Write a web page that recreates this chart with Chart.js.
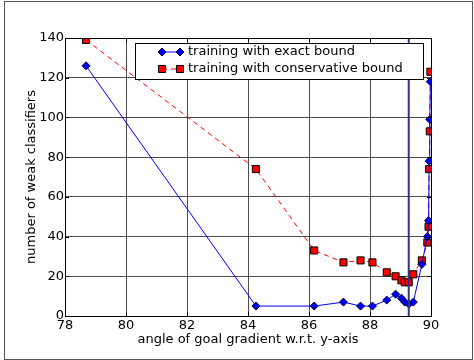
<!DOCTYPE html>
<html>
<head>
<meta charset="utf-8">
<script src="https://cdn.jsdelivr.net/npm/chart.js@4.4.1/dist/chart.umd.min.js"></script>
<style>
  html, body { margin: 0; padding: 0; background: #fff; }
  #wrap { position: relative; width: 474px; height: 360px; }
</style>
</head>
<body>
<div id="wrap"><canvas id="c" width="474" height="360"></canvas></div>
<script>
// ---- data ----
const angles = [78.69, 84.26, 86.17, 87.13, 87.69, 88.08, 88.55, 88.84, 89.03, 89.14, 89.27, 89.42, 89.70, 89.88, 89.92, 89.94, 89.96, 89.98];
const exactBound = [126, 5, 5, 7, 5, 5, 8, 11, 9, 7, 6, 7, 26, 40, 48, 78, 99, 118];
const conservativeBound = [139, 74, 33, 27, 28, 27, 22, 20, 18, 17, 17, 21, 28, 37, 45, 74, 93, 123];
const markerAngle = [89.27, 89.27];
const markerSpan = [0, 140];
const seriesLabels = ['training with exact bound', 'training with conservative bound'];
const xTicks = [78, 80, 82, 84, 86, 88, 90];
const yTicks = [0, 20, 40, 60, 80, 100, 120, 140];
const xTitle = 'angle of goal gradient w.r.t. y-axis';
const yTitle = 'number of weak classifiers';

const FONT = 'DejaVu Sans';
const toPts = (xs, ys) => xs.map((x, i) => ({ x: x, y: ys[i] }));

function drawMarker(ctx, style, r, px, py, fill, stroke) {
  ctx.fillStyle = fill;
  ctx.strokeStyle = stroke;
  ctx.lineWidth = 1;
  ctx.beginPath();
  if (style === 'rect') {
    const s = r * Math.SQRT1_2;
    ctx.rect(px - s, py - s, 2 * s, 2 * s);
  } else {
    ctx.moveTo(px - r, py); ctx.lineTo(px, py - r); ctx.lineTo(px + r, py); ctx.lineTo(px, py + r); ctx.closePath();
  }
  ctx.fill(); ctx.stroke();
}

const framePlugin = {
  id: 'frame',
  beforeDraw(chart) {
    const ctx = chart.ctx;
    ctx.save();
    ctx.fillStyle = '#fff';
    ctx.fillRect(0, 0, chart.width, chart.height);
    ctx.strokeStyle = '#555';
    ctx.lineWidth = 1;
    ctx.strokeRect(4.5, 1.5, 468, 358);
    ctx.restore();
  },
  afterDatasetsDraw(chart) {
    const ctx = chart.ctx;
    const a = chart.chartArea;
    const xs = chart.scales.x, ys = chart.scales.y;
    ctx.save();
    // axes frame
    ctx.strokeStyle = '#000';
    ctx.lineWidth = 1;
    ctx.strokeRect(Math.round(a.left) + 0.5, Math.round(a.top) + 0.5, Math.round(a.right - a.left), Math.round(a.bottom - a.top));
    // inward ticks on all four sides
    ctx.beginPath();
    xTicks.forEach(v => {
      const px = Math.round(xs.getPixelForValue(v)) + 0.5;
      ctx.moveTo(px, a.bottom); ctx.lineTo(px, a.bottom - 4);
      ctx.moveTo(px, a.top); ctx.lineTo(px, a.top + 4);
    });
    yTicks.forEach(v => {
      const py = Math.round(ys.getPixelForValue(v)) + 0.5;
      ctx.moveTo(a.left, py); ctx.lineTo(a.left + 4, py);
      ctx.moveTo(a.right, py); ctx.lineTo(a.right - 4, py);
    });
    ctx.stroke();

    // legend
    const lx = 135.5, ly = 43.5, lw = 288, lh = 36;
    ctx.fillStyle = '#fff';
    ctx.fillRect(lx, ly, lw, lh);
    ctx.strokeStyle = '#000';
    ctx.strokeRect(lx, ly, lw, lh);
    const rows = [
      { y: 52, ds: chart.data.datasets[0] },
      { y: 69, ds: chart.data.datasets[1] }
    ];
    rows.forEach((r, i) => {
      const x1 = 162, x2 = 180;
      ctx.beginPath();
      ctx.strokeStyle = r.ds.borderColor;
      ctx.lineWidth = 1;
      ctx.setLineDash(r.ds.borderDash || []);
      ctx.moveTo(x1, r.y); ctx.lineTo(x2, r.y);
      ctx.stroke();
      ctx.setLineDash([]);
      [x1, x2].forEach(px => drawMarker(ctx, r.ds.pointStyle, r.ds.pointRadius, px, r.y, r.ds.pointBackgroundColor, r.ds.pointBorderColor));
      ctx.fillStyle = '#000';
      ctx.font = '13px "' + FONT + '"';
      ctx.textBaseline = 'middle';
      ctx.textAlign = 'left';
      ctx.fillText(seriesLabels[i], 188, r.y);
    });
    ctx.restore();
  }
};

new Chart(document.getElementById('c'), {
  type: 'scatter',
  data: {
    datasets: [
      {
        label: seriesLabels[0],
        data: toPts(angles, exactBound),
        showLine: true,
        borderColor: '#0000ff',
        borderWidth: 1,
        pointStyle: 'rectRot',
        pointRadius: 4,
        pointBackgroundColor: '#0000ff',
        pointBorderColor: '#000033',
        pointBorderWidth: 1,
        clip: 0,
        order: 1
      },
      {
        label: seriesLabels[1],
        data: toPts(angles, conservativeBound),
        showLine: true,
        borderColor: '#ff0000',
        borderWidth: 1,
        borderDash: [5, 4],
        pointStyle: 'rect',
        pointRadius: 5,
        pointBackgroundColor: '#ff0000',
        pointBorderColor: '#000',
        pointBorderWidth: 1,
        clip: 0,
        order: 2
      },
      {
        label: 'marker',
        data: toPts(markerAngle, markerSpan),
        showLine: true,
        borderColor: '#333388',
        borderWidth: 2,
        pointRadius: 0,
        clip: 0,
        order: 0
      }
    ]
  },
  plugins: [framePlugin],
  options: {
    responsive: false,
    animation: false,
    devicePixelRatio: 1,
    layout: { padding: { left: 20, right: 43, top: 38, bottom: 13 } },
    plugins: { legend: { display: false }, tooltip: { enabled: false } },
    scales: {
      x: {
        type: 'linear',
        min: 78, max: 90,
        afterBuildTicks: s => { s.ticks = xTicks.map(v => ({ value: v })); },
        afterFit: s => { s.height = 31; },
        border: { display: false },
        grid: { color: 'rgba(0,0,0,0.7)', borderDash: [1, 2], drawTicks: false, lineWidth: 1 },
        ticks: { color: '#000', font: { family: FONT, size: 13 }, padding: 2, maxRotation: 0 },
        title: { display: true, text: xTitle, color: '#000', font: { family: FONT, size: 13 }, padding: 0 }
      },
      y: {
        type: 'linear',
        min: 0, max: 140,
        afterBuildTicks: s => { s.ticks = yTicks.map(v => ({ value: v })); },
        afterFit: s => { s.width = 45; },
        border: { display: false },
        grid: { color: 'rgba(0,0,0,0.7)', borderDash: [1, 2], drawTicks: false, lineWidth: 1 },
        ticks: { color: '#000', font: { family: FONT, size: 13 }, padding: 1 },
        title: { display: true, text: yTitle, color: '#000', font: { family: FONT, size: 13 }, padding: { top: 4, bottom: 0 } }
      }
    }
  }
});
</script>
</body>
</html>
